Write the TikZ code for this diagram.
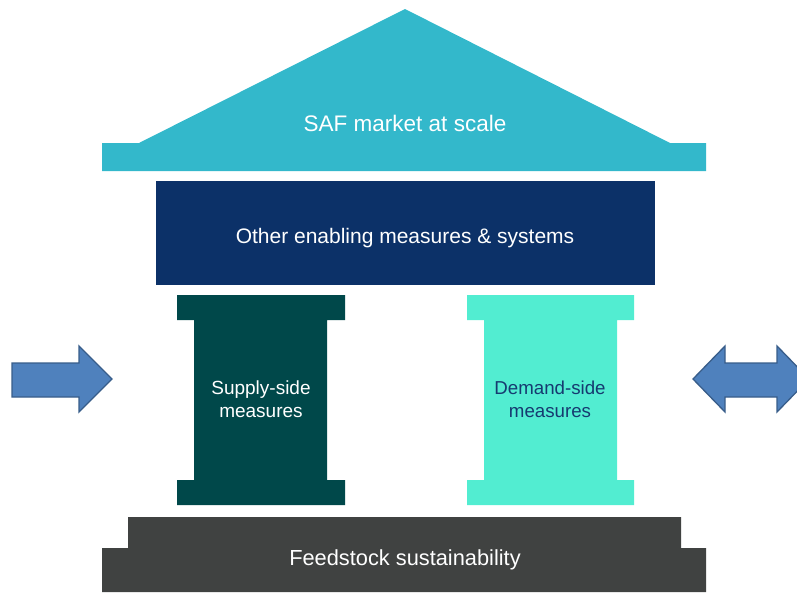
\documentclass[tikz,border=0pt]{standalone}
\usepackage{fontspec}
\setmainfont{Liberation Sans}
\definecolor{roofc}{HTML}{33B8CB}
\definecolor{navyc}{HTML}{0C3168}
\definecolor{supplyc}{HTML}{00484A}
\definecolor{demandc}{HTML}{52EDD1}
\definecolor{demandtxt}{HTML}{163A70}
\definecolor{basec}{HTML}{404241}
\definecolor{arrowfill}{HTML}{4F81BD}
\definecolor{arrowline}{HTML}{385D8A}
\tikzset{
  lbl/.style={inner sep=0pt, align=center, text=white},
  blockarrow/.style={fill=arrowfill, draw=arrowline, line width=1.3pt, line join=miter}
}
\begin{document}
\begin{tikzpicture}[x=1pt,y=-1pt]
\useasboundingbox (0,0) rectangle (797,592);
% roof
\fill[roofc] (102,143) -- (139,143) -- (405,9) -- (670,143) -- (706,143) -- (706,171) -- (102,171) -- cycle;
\node[lbl, font=\fontsize{22.5}{27}\selectfont] (roof) at (405,123) {SAF market at scale};
% banner
\fill[navyc] (156,181) rectangle (655,285);
\node[lbl, font=\fontsize{21}{25}\selectfont] (banner) at (405,238.5) {Other enabling measures \& systems};
% supply pillar
\fill[supplyc] (177,295) -- (345,295) -- (345,320) -- (327,320) -- (327,480) -- (345,480) -- (345,505) -- (177,505) -- (177,480) -- (194,480) -- (194,320) -- (177,320) -- cycle;
\node[lbl, font=\fontsize{19}{23}\selectfont] (supply) at (261,399) {Supply-side\\measures};
% demand pillar
\fill[demandc] (467,295) -- (634,295) -- (634,320) -- (617,320) -- (617,480) -- (634,480) -- (634,505) -- (467,505) -- (467,480) -- (484,480) -- (484,320) -- (467,320) -- cycle;
\node[lbl, text=demandtxt, font=\fontsize{18.7}{23}\selectfont] (demand) at (550,399.5) {Demand-side\\measures};
% base
\fill[basec] (128,517) -- (681,517) -- (681,548) -- (706,548) -- (706,592) -- (102,592) -- (102,548) -- (128,548) -- cycle;
\node[lbl, font=\fontsize{21.8}{26}\selectfont] (base) at (405,559.5) {Feedstock sustainability};
% left arrow
\path[blockarrow] (12,363) -- (79,363) -- (79,346) -- (112,379) -- (79,412) -- (79,397) -- (12,397) -- cycle;
% right double arrow
\path[blockarrow] (693,379) -- (725,346) -- (725,363) -- (777,363) -- (777,346) -- (809,379) -- (777,412) -- (777,397) -- (725,397) -- (725,412) -- cycle;
\end{tikzpicture}
\end{document}
